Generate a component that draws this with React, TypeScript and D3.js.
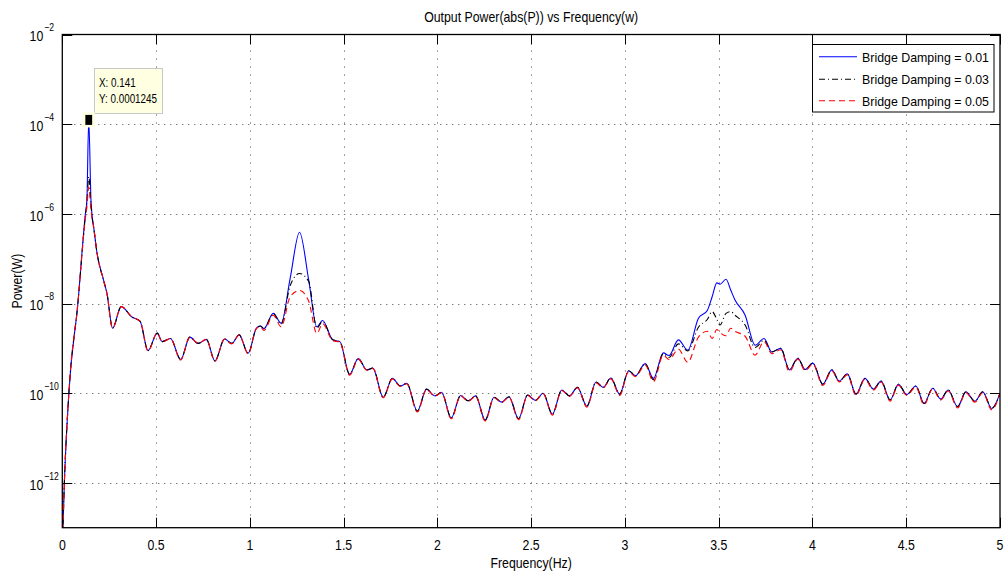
import * as d3 from "d3";
import { useEffect, useRef } from "react";

// frequency samples (Hz), shared by the three curves
const freqHz = [
  0.0, 0.011, 0.035, 0.083, 0.123, 0.131, 0.141, 0.153, 0.158, 0.167,
  0.185, 0.22, 0.238, 0.268, 0.314, 0.371, 0.415, 0.457, 0.506, 0.533,
  0.577, 0.631, 0.68, 0.725, 0.768, 0.814, 0.865, 0.903, 0.943, 0.991,
  1.035, 1.057, 1.075, 1.125, 1.167, 1.215, 1.265, 1.314, 1.357, 1.388,
  1.442, 1.48, 1.532, 1.578, 1.624, 1.656, 1.711, 1.76, 1.803, 1.837,
  1.893, 1.942, 1.987, 2.022, 2.074, 2.124, 2.164, 2.204, 2.255, 2.302,
  2.342, 2.382, 2.433, 2.481, 2.523, 2.564, 2.613, 2.663, 2.704, 2.747,
  2.797, 2.846, 2.884, 2.925, 2.972, 3.02, 3.056, 3.108, 3.152, 3.205,
  3.235, 3.285, 3.335, 3.392, 3.44, 3.465, 3.49, 3.507, 3.539, 3.564,
  3.587, 3.641, 3.694, 3.742, 3.783, 3.831, 3.877, 3.922, 3.961, 4.002,
  4.055, 4.103, 4.143, 4.186, 4.232, 4.28, 4.325, 4.366, 4.414, 4.458,
  4.503, 4.551, 4.595, 4.641, 4.684, 4.724, 4.774, 4.818, 4.866, 4.908,
  4.956, 5.0,
];

// log10 of power (W) for damping 0.01
const log10Power001 = [
  -13.5, -12.0, -10.0, -8.0, -6.0, -5.7, -3.905, -5.7, -6.0, -6.29,
  -6.87, -7.48, -7.77, -8.55, -8.07, -8.3, -8.4, -9.05, -8.66, -8.85,
  -8.78, -9.25, -8.75, -8.89, -8.8, -9.28, -8.79, -8.89, -8.7, -9.11,
  -8.55, -8.5, -8.56, -8.22, -8.44, -7.44, -6.41, -7.48, -8.52, -8.38,
  -8.81, -8.85, -9.58, -9.23, -9.48, -9.44, -10.09, -9.67, -9.84, -9.78,
  -10.4, -9.91, -10.06, -9.98, -10.55, -10.05, -10.17, -10.06, -10.6, -10.09,
  -10.2, -10.08, -10.57, -10.04, -10.16, -10.0, -10.47, -9.93, -10.06, -9.87,
  -10.29, -9.75, -9.87, -9.66, -10.02, -9.5, -9.61, -9.34, -9.67, -9.1,
  -9.16, -8.81, -9.04, -8.33, -8.15, -7.85, -7.54, -7.57, -7.46, -7.7,
  -7.92, -8.26, -8.93, -8.78, -9.08, -9.0, -9.48, -9.22, -9.47, -9.33,
  -9.8, -9.48, -9.73, -9.57, -10.02, -9.67, -9.91, -9.73, -10.15, -9.8,
  -10.03, -9.84, -10.23, -9.89, -10.13, -9.93, -10.3, -9.97, -10.18, -9.97,
  -10.34, -10.0,
];

// log10 of power (W) for damping 0.03
const log10Power003 = [
  -13.5, -12.0, -10.0, -8.0, -6.05, -5.75, -5.17, -5.8, -6.05, -6.29,
  -6.87, -7.48, -7.77, -8.55, -8.07, -8.3, -8.4, -9.05, -8.66, -8.85,
  -8.78, -9.25, -8.75, -8.89, -8.8, -9.28, -8.79, -8.89, -8.7, -9.11,
  -8.55, -8.5, -8.56, -8.23, -8.46, -7.6, -7.33, -7.51, -8.55, -8.4,
  -8.81, -8.85, -9.58, -9.23, -9.48, -9.44, -10.09, -9.67, -9.84, -9.78,
  -10.4, -9.91, -10.06, -9.98, -10.55, -10.05, -10.17, -10.06, -10.6, -10.09,
  -10.2, -10.08, -10.57, -10.04, -10.16, -10.0, -10.47, -9.93, -10.06, -9.87,
  -10.29, -9.75, -9.87, -9.66, -10.02, -9.5, -9.61, -9.34, -9.7, -9.12,
  -9.2, -8.9, -9.06, -8.53, -8.35, -8.18, -8.35, -8.48, -8.22, -8.18,
  -8.26, -8.48, -8.98, -8.82, -9.08, -9.0, -9.48, -9.22, -9.47, -9.33,
  -9.8, -9.48, -9.73, -9.57, -10.02, -9.67, -9.91, -9.73, -10.15, -9.8,
  -10.03, -9.84, -10.23, -9.89, -10.13, -9.93, -10.3, -9.97, -10.18, -9.97,
  -10.34, -10.0,
];

// log10 of power (W) for damping 0.05
const log10Power005 = [
  -13.5, -12.0, -10.0, -8.0, -6.1, -5.85, -5.4, -5.9, -6.1, -6.29,
  -6.87, -7.48, -7.77, -8.55, -8.07, -8.3, -8.4, -9.06, -8.66, -8.86,
  -8.78, -9.26, -8.75, -8.89, -8.8, -9.29, -8.79, -8.9, -8.7, -9.12,
  -8.56, -8.52, -8.6, -8.26, -8.52, -7.85, -7.71, -7.95, -8.67, -8.45,
  -8.83, -8.86, -9.6, -9.24, -9.49, -9.45, -10.1, -9.68, -9.85, -9.79,
  -10.42, -9.92, -10.07, -9.99, -10.57, -10.06, -10.18, -10.07, -10.62, -10.1,
  -10.21, -10.09, -10.59, -10.05, -10.17, -10.01, -10.49, -9.94, -10.07, -9.88,
  -10.31, -9.77, -9.88, -9.68, -10.05, -9.52, -9.63, -9.37, -9.74, -9.15,
  -9.25, -9.02, -9.31, -8.75, -8.62, -8.78, -8.58, -8.65, -8.72, -8.55,
  -8.62, -8.73, -9.15, -8.85, -9.12, -9.03, -9.52, -9.24, -9.5, -9.35,
  -9.83, -9.5, -9.75, -9.59, -10.05, -9.69, -9.93, -9.75, -10.18, -9.82,
  -10.05, -9.86, -10.26, -9.91, -10.15, -9.95, -10.33, -9.99, -10.2, -9.99,
  -10.37, -10.0,
];

const seriesNames = [
  "Bridge Damping = 0.01",
  "Bridge Damping = 0.03",
  "Bridge Damping = 0.05",
];
const seriesColors = ["#0000ff", "#000000", "#ff0000"];
const seriesDash = ["none", "6,3,1,3", "6,4"];

const xTicks = [0, 0.5, 1, 1.5, 2, 2.5, 3, 3.5, 4, 4.5, 5];
const yTickExponents = [-12, -10, -8, -6, -4, -2];

const tipFreq = 0.141;
const tipPower = 0.0001245;

// squeeze text horizontally so Liberation Sans looks like the narrow Helvetica of the original
const narrow = (sel, k = 0.82) =>
  sel.each(function () {
    const len = this.getComputedTextLength();
    d3.select(this).attr("textLength", len * k).attr("lengthAdjust", "spacingAndGlyphs");
  });

const App = () => {
  const svgRef = useRef(null);

  useEffect(() => {
    const width = 1008;
    const height = 579;
    const left = 62.3;
    const right = 1000;
    const top = 34.5;
    const bottom = 527.7;
    const font = "'Liberation Sans', Arial, Helvetica, sans-serif";

    const svg = d3.select(svgRef.current).attr("width", width).attr("height", height);
    svg.selectAll("*").remove();

    svg.append("rect").attr("width", width).attr("height", height).attr("fill", "#fff");

    const x = d3.scaleLinear().domain([0, 5]).range([left, right]);
    const y = d3.scaleLog().domain([1e-13, 1e-2]).range([bottom, top]);

    svg
      .append("defs")
      .append("clipPath")
      .attr("id", "plotClip")
      .append("rect")
      .attr("x", left)
      .attr("y", top)
      .attr("width", right - left)
      .attr("height", bottom - top);

    // grid
    const grid = svg.append("g").attr("stroke", "#444").attr("stroke-width", 1).attr("fill", "none");
    grid
      .selectAll("line.vgrid")
      .data(xTicks.slice(1, -1))
      .join("line")
      .attr("class", "vgrid")
      .attr("x1", (d) => Math.round(x(d)) + 0.5)
      .attr("x2", (d) => Math.round(x(d)) + 0.5)
      .attr("y1", top)
      .attr("y2", bottom)
      .attr("stroke-dasharray", "1,7");
    grid
      .selectAll("line.hgrid")
      .data(yTickExponents.slice(0, -1))
      .join("line")
      .attr("class", "hgrid")
      .attr("x1", left)
      .attr("x2", right)
      .attr("y1", (d) => Math.round(y(Math.pow(10, d))) + 0.5)
      .attr("y2", (d) => Math.round(y(Math.pow(10, d))) + 0.5)
      .attr("stroke-dasharray", "1,5");

    // curves
    const series = [log10Power001, log10Power003, log10Power005].map((vals) =>
      vals.map((v, i) => ({ f: freqHz[i], p: Math.pow(10, v) }))
    );
    const line = d3
      .line()
      .x((d) => x(d.f))
      .y((d) => y(d.p))
      .curve(d3.curveMonotoneX);
    const curves = svg.append("g").attr("clip-path", "url(#plotClip)");
    curves
      .selectAll("path")
      .data(series)
      .join("path")
      .attr("d", (d) => line(d))
      .attr("fill", "none")
      .attr("stroke", (d, i) => seriesColors[i])
      .attr("stroke-width", 1.1)
      .attr("stroke-dasharray", (d, i) => seriesDash[i]);

    // box
    svg
      .append("rect")
      .attr("x", left)
      .attr("y", top)
      .attr("width", right - left)
      .attr("height", bottom - top)
      .attr("fill", "none")
      .attr("stroke", "#000")
      .attr("stroke-width", 1.3);

    // ticks on all four sides, pointing in
    const tickLen = 10;
    const ticks = svg.append("g").attr("stroke", "#000").attr("stroke-width", 1);
    xTicks.forEach((t) => {
      const px = Math.round(x(t)) + 0.5;
      ticks.append("line").attr("x1", px).attr("x2", px).attr("y1", bottom).attr("y2", bottom - tickLen);
      ticks.append("line").attr("x1", px).attr("x2", px).attr("y1", top).attr("y2", top + tickLen);
    });
    yTickExponents.forEach((e) => {
      const py = Math.round(y(Math.pow(10, e))) + 0.5;
      ticks.append("line").attr("x1", left).attr("x2", left + tickLen).attr("y1", py).attr("y2", py);
      ticks.append("line").attr("x1", right).attr("x2", right - tickLen).attr("y1", py).attr("y2", py);
    });

    // x tick labels
    svg
      .selectAll("text.xLabel")
      .data(xTicks)
      .join("text")
      .attr("class", "xLabel")
      .attr("x", (d) => x(d))
      .attr("y", 549.5)
      .attr("text-anchor", "middle")
      .attr("font-family", font)
      .attr("font-size", 15)
      .text((d) => d3.format("~g")(d))
      .call(narrow);

    // y tick labels as 10^e
    const yLab = svg
      .selectAll("g.yLabel")
      .data(yTickExponents)
      .join("g")
      .attr("class", "yLabel")
      .attr("font-family", font);
    yLab
      .append("text")
      .attr("x", 43.3)
      .attr("y", (d) => y(Math.pow(10, d)) + 6.8)
      .attr("text-anchor", "end")
      .attr("font-size", 15)
      .text("10")
      .call(narrow);
    yLab
      .append("text")
      .attr("x", 44.3)
      .attr("y", (d) => y(Math.pow(10, d)) - 3.2)
      .attr("text-anchor", "start")
      .attr("font-size", 10.5)
      .text((d) => "\u2212" + Math.abs(d))
      .call(narrow);

    // title and axis labels
    svg
      .append("text")
      .attr("x", (left + right) / 2)
      .attr("y", 22)
      .attr("text-anchor", "middle")
      .attr("font-family", font)
      .attr("font-size", 15)
      .text("Output Power(abs(P)) vs Frequency(w)")
      .call(narrow);
    svg
      .append("text")
      .attr("x", (left + right) / 2)
      .attr("y", 568)
      .attr("text-anchor", "middle")
      .attr("font-family", font)
      .attr("font-size", 15)
      .text("Frequency(Hz)")
      .call(narrow);
    svg
      .append("text")
      .attr("transform", `translate(22,${(top + bottom) / 2}) rotate(-90)`)
      .attr("text-anchor", "middle")
      .attr("font-family", font)
      .attr("font-size", 15)
      .text("Power(W)")
      .call(narrow);

    // legend
    const legend = svg.append("g");
    legend
      .append("rect")
      .attr("x", 812.5)
      .attr("y", 44.5)
      .attr("width", 181.5)
      .attr("height", 67.5)
      .attr("fill", "#fff")
      .attr("stroke", "#000")
      .attr("stroke-width", 1);
    const rowY = [56.7, 79.3, 100.7];
    seriesNames.forEach((name, i) => {
      legend
        .append("line")
        .attr("x1", 819)
        .attr("x2", 857)
        .attr("y1", rowY[i])
        .attr("y2", rowY[i])
        .attr("stroke", seriesColors[i])
        .attr("stroke-width", 1.1)
        .attr("stroke-dasharray", seriesDash[i]);
      legend
        .append("text")
        .attr("x", 862)
        .attr("y", rowY[i] + 5)
        .attr("font-family", font)
        .attr("font-size", 13.5)
        .attr("textLength", 127)
        .attr("lengthAdjust", "spacingAndGlyphs")
        .text(name);
    });

    // data tip
    const tx = x(tipFreq);
    const ty = y(tipPower);
    const tip = svg.append("g").attr("font-family", font);
    tip
      .append("rect")
      .attr("x", 94.5)
      .attr("y", 68.5)
      .attr("width", 68)
      .attr("height", 45)
      .attr("fill", "#ffffe1")
      .attr("stroke", "#c8c8c8");
    tip
      .append("text")
      .attr("x", 99)
      .attr("y", 87.3)
      .attr("font-size", 12)
      .text(`X: ${tipFreq}`)
      .call(narrow);
    tip
      .append("text")
      .attr("x", 99)
      .attr("y", 103.3)
      .attr("font-size", 12)
      .text(`Y: ${tipPower}`)
      .call(narrow);
    tip
      .append("rect")
      .attr("x", tx - 6.2)
      .attr("y", ty - 7.5)
      .attr("width", 12.4)
      .attr("height", 15)
      .attr("fill", "#ffffe1");
    tip
      .append("rect")
      .attr("x", tx - 3.4)
      .attr("y", ty - 5)
      .attr("width", 6.8)
      .attr("height", 10)
      .attr("fill", "#000");
  }, []);

  return <svg ref={svgRef} style={{ position: "absolute", left: 0, top: 0, display: "block" }}></svg>;
};

export default App;
